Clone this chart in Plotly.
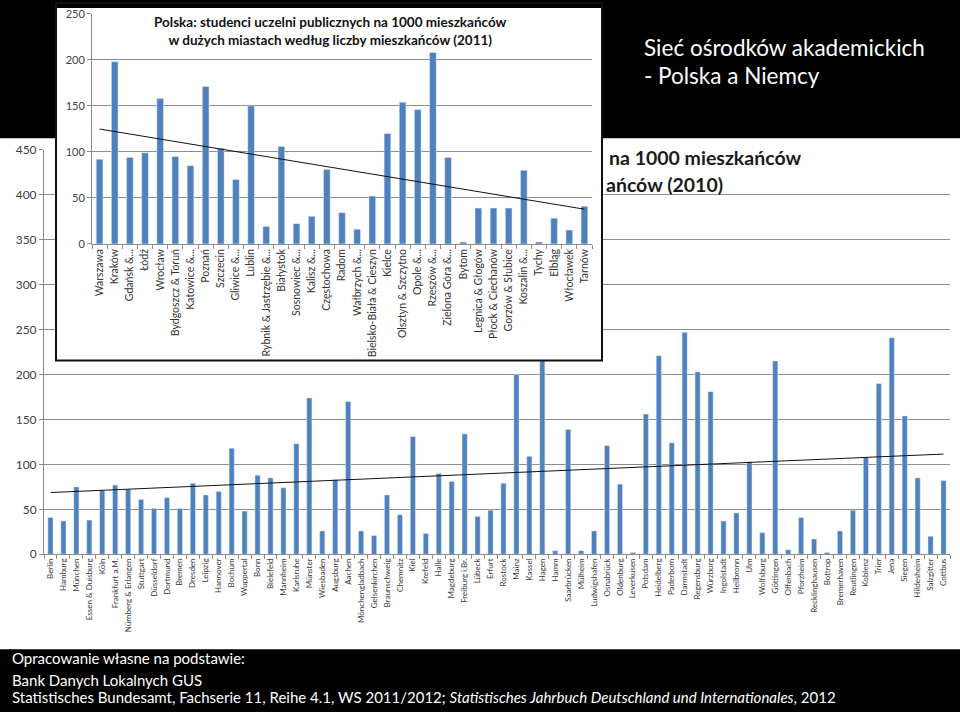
import numpy as np
import plotly.graph_objects as go

W, H = 960, 712

# ---------------- data ----------------
de_cities = ["Berlin", "Hamburg", "München", "Essen & Duisburg", "Köln", "Frankfurt a.M.",
             "Nürnberg & Erlangen", "Stuttgart", "Düsseldorf", "Dortmund", "Bremen", "Dresden",
             "Leipzig", "Hannover", "Bochum", "Wuppertal", "Bonn", "Bielefeld", "Mannheim",
             "Karlsruhe", "Münster", "Wiesbaden", "Augsburg", "Aachen", "Mönchengladbach",
             "Gelsenkirchen", "Braunschweig", "Chemnitz", "Kiel", "Krefeld", "Halle", "Magdeburg",
             "Freiburg i.Br.", "Lübeck", "Erfurt", "Rostock", "Mainz", "Kassel", "Hagen", "Hamm",
             "Saarbrücken", "Mülheim", "Ludwigshafen", "Osnabrück", "Oldenburg", "Leverkusen",
             "Potsdam", "Heidelberg", "Paderborn", "Darmstadt", "Regensburg", "Würzburg",
             "Ingolstadt", "Heilbronn", "Ulm", "Wolfsburg", "Göttingen", "Offenbach", "Pforzheim",
             "Recklinghausen", "Bottrop", "Bremerhaven", "Reutlingen", "Koblenz", "Trier", "Jena",
             "Siegen", "Hildesheim", "Salzgitter", "Cottbus"]
de_values = [41, 37, 75, 38, 71, 77, 72, 61, 51, 63,
             51, 79, 66, 70, 118, 48, 88, 85, 74, 123,
             174, 26, 83, 170, 26, 21, 66, 44, 131, 23,
             90, 81, 134, 42, 49, 79, 200, 109, 420, 4,
             139, 4, 26, 121, 78, 2, 156, 221, 124, 247,
             203, 181, 37, 46, 103, 24, 215, 5, 41, 17,
             2, 26, 49, 108, 190, 241, 154, 85, 20, 82]

pl_cities = ["Warszawa", "Kraków", "Gdańsk &...", "Łódź", "Wrocław", "Bydgoszcz & Toruń",
             "Katowice &...", "Poznań", "Szczecin", "Gliwice &...", "Lublin",
             "Rybnik & Jastrzębie &...", "Białystok", "Sosnowiec &...", "Kalisz &...",
             "Częstochowa", "Radom", "Wałbrzych &...", "Bielsko-Biała & Cieszyn", "Kielce",
             "Olsztyn & Szczytno", "Opole &...", "Rzeszów &...", "Zielona Góra &...", "Bytom",
             "Legnica & Głogów", "Płock & Ciechanów", "Gorzów & Słubice", "Koszalin &...",
             "Tychy", "Elbląg", "Włocławek", "Tarnów"]
pl_values = [92, 198, 94, 99, 158, 95, 85, 171, 104, 70,
             150, 19, 106, 22, 30, 81, 34, 16, 52, 120,
             154, 146, 208, 94, 2, 39, 39, 39, 80, 2,
             28, 15, 41]

de_yticks = list(range(0, 451, 50))
pl_yticks = list(range(0, 251, 50))

main_title = ["Sieć ośrodków akademickich", "- Polska a Niemcy"]
pl_title = "Polska: studenci uczelni publicznych na 1000 mieszkańców<br>w dużych miastach według liczby mieszkańców (2011)"
de_title_visible = ["na 1000 mieszkańców", "ańców (2010)"]
source_lines = ["Opracowanie własne na podstawie:",
                "Bank Danych Lokalnych GUS",
                "Statistisches Bundesamt, Fachserie 11, Reihe 4.1, WS 2011/2012; "
                "<i>Statistisches Jahrbuch Deutschland und Internationales</i>, 2012"]

# ---------------- helpers / styles ----------------
def fx(p):
    return p / W

def fy(p):
    return 1 - p / H

BAR = "#4F81BD"
GRID = "#8c8c8c"
FONT = "Lato"
LABEL = "#3a3a3a"

fig = go.Figure()

# German chart (background)
fig.add_trace(go.Bar(x=de_cities, y=de_values, marker_color=BAR, width=0.4,
                     xaxis="x", yaxis="y", showlegend=False, hoverinfo="x+y"))
de_i = np.arange(len(de_values))
de_s, de_c = np.polyfit(de_i, de_values, 1)
fig.add_trace(go.Scatter(x=[de_cities[0], de_cities[-1]],
                         y=[de_c, de_c + de_s * de_i[-1]],
                         mode="lines", line=dict(color="#111111", width=1),
                         xaxis="x", yaxis="y", showlegend=False, hoverinfo="skip"))

# cover panel for the inset picture
fig.add_trace(go.Scatter(x=[], y=[], xaxis="x2", yaxis="y2", showlegend=False,
                         hoverinfo="skip"))

# Polish inset chart
fig.add_trace(go.Bar(x=pl_cities, y=pl_values, marker_color=BAR, width=0.44,
                     xaxis="x3", yaxis="y3", showlegend=False, hoverinfo="x+y"))
pl_i = np.arange(len(pl_values))
pl_s, pl_c = np.polyfit(pl_i, pl_values, 1)
fig.add_trace(go.Scatter(x=[pl_cities[0], pl_cities[-1]],
                         y=[pl_c, pl_c + pl_s * pl_i[-1]],
                         mode="lines", line=dict(color="#111111", width=1),
                         xaxis="x3", yaxis="y3", showlegend=False, hoverinfo="skip"))

axis_common = dict(showline=True, linecolor=GRID, ticks="outside", tickcolor=GRID,
                   ticklen=4, zeroline=False, fixedrange=True)

fig.update_layout(
    width=W, height=H, autosize=False,
    margin=dict(l=0, r=0, t=0, b=0),
    paper_bgcolor="black", plot_bgcolor="white",
    font=dict(family=FONT, color=LABEL),
    xaxis=dict(domain=[fx(44), fx(950)], type="category", tickson="boundaries",
               tickangle=-90, tickfont=dict(size=8, color=LABEL), showgrid=False,
               range=[-0.5, len(de_cities) - 0.5], **axis_common),
    yaxis=dict(domain=[fy(558), fy(145)], range=[0, 450], tickvals=de_yticks,
               showgrid=True, gridcolor=GRID, gridwidth=1,
               tickfont=dict(size=12, color="#404040"), **axis_common),
    xaxis2=dict(domain=[fx(56), fx(602)], visible=False, range=[0, 1], anchor="y2",
                fixedrange=True),
    yaxis2=dict(domain=[fy(360), 1], visible=False, range=[0, 1], anchor="x2",
                fixedrange=True),
    xaxis3=dict(domain=[fx(92), fx(592)], type="category", tickson="boundaries",
                anchor="y3", tickangle=-90, tickfont=dict(size=10.5, color="#333333"),
                showgrid=False, range=[-0.5, len(pl_cities) - 0.5], **axis_common),
    yaxis3=dict(domain=[fy(241), fy(6)], range=[0, 250], tickvals=pl_yticks,
                anchor="x3", showgrid=True, gridcolor=GRID, gridwidth=1,
                tickfont=dict(size=11, color="#404040"), **axis_common),
    shapes=[
        dict(type="rect", xref="paper", yref="paper", x0=0, x1=1, y0=fy(655), y1=fy(133),
             fillcolor="white", line=dict(width=0), layer="below"),
        dict(type="rect", xref="paper", yref="paper", x0=fx(56), x1=fx(602),
             y0=fy(360), y1=fy(-5), fillcolor="rgba(0,0,0,0)",
             line=dict(color="#111111", width=2), layer="above"),
    ],
)

ann = []
ann.append(dict(text=pl_title, x=fx(330), y=fy(23), xref="paper", yref="paper",
                xanchor="center", yanchor="middle", showarrow=False, align="center",
                font=dict(family=FONT, size=13.5, color="#111111", weight="bold")))
ann.append(dict(text=de_title_visible[0], x=fx(607), y=fy(153), xref="paper", yref="paper",
                xanchor="left", yanchor="middle", showarrow=False,
                font=dict(family=FONT, size=19.5, color="#1a1a1a", weight="bold")))
ann.append(dict(text=de_title_visible[1], x=fx(604), y=fy(180), xref="paper", yref="paper",
                xanchor="left", yanchor="middle", showarrow=False,
                font=dict(family=FONT, size=19.5, color="#1a1a1a", weight="bold")))
for t, yy in zip(main_title, [40, 69]):
    ann.append(dict(text=t, x=fx(642), y=fy(yy), xref="paper", yref="paper",
                    xanchor="left", yanchor="middle", showarrow=False,
                    font=dict(family=FONT, size=22.5, color="white")))
for t, yy in zip(source_lines, [664, 686, 704]):
    ann.append(dict(text=t, x=fx(10), y=fy(yy), xref="paper", yref="paper",
                    xanchor="left", yanchor="middle", showarrow=False,
                    font=dict(family=FONT, size=15, color="white")))
fig.update_layout(annotations=ann)

post = (
    "document.documentElement.style.margin='0';"
    "document.documentElement.style.overflow='hidden';"
    "document.documentElement.style.background='black';"
    "document.body.style.margin='0';document.body.style.padding='0';"
    "document.body.style.overflow='hidden';document.body.style.background='black';"
    "var gd=document.getElementById('{plot_id}');"
    "gd.style.position='fixed';gd.style.top='0px';gd.style.left='0px';"
)

fig.write_html("out.html", config={"displayModeBar": False}, post_script=post)
